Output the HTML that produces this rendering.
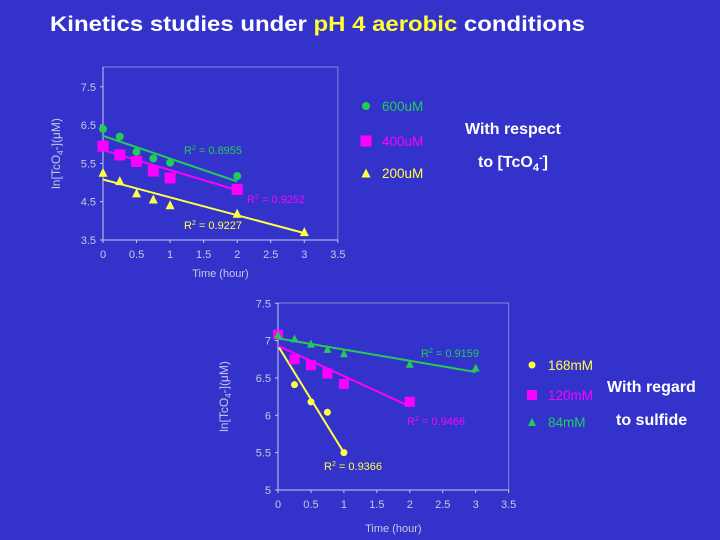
<!DOCTYPE html>
<html><head><meta charset="utf-8"><style>
body{margin:0;width:720px;height:540px;background:#3333cc;overflow:hidden;font-family:"Liberation Sans",sans-serif}
svg{position:absolute;left:0;top:0}
</style></head><body>
<svg width="720" height="540" font-family="Liberation Sans, sans-serif">
<text x="50" y="31" font-size="21" font-weight="bold" fill="#fff" textLength="535" lengthAdjust="spacingAndGlyphs">Kinetics studies under <tspan fill="#ffff33">pH 4 aerobic</tspan> conditions</text>
<g id="c1"></g>
<g id="c2"></g>
<text x="465" y="134" font-size="16" font-weight="bold" fill="#fff">With respect</text>
<text x="478" y="167" font-size="16" font-weight="bold" fill="#fff">to [TcO<tspan font-size="11" dy="4">4</tspan><tspan font-size="11" dy="-10">-</tspan><tspan dy="6">]</tspan></text>
<text x="607" y="392" font-size="16" font-weight="bold" fill="#fff">With regard</text>
<text x="616" y="425" font-size="16" font-weight="bold" fill="#fff">to sulfide</text>
</svg>
<script>
// Chart 1 data
const times1=[0,0.25,0.5,0.75,1,2,3];
const s600=[6.4,6.2,5.8,5.63,5.52,5.17];
const s400=[5.95,5.72,5.55,5.3,5.12,4.82];
const s200=[5.27,5.05,4.73,4.57,4.42,4.2,3.72];
const fit600=[6.22,5.03], fit400=[5.85,4.8], fit200=[5.08,3.68];
const xTicks1=[0,0.5,1,1.5,2,2.5,3,3.5];
const yTicks1=[3.5,4.5,5.5,6.5,7.5];
// Chart 2 data
const s168=[null,6.41,6.18,6.04,5.5];
const s120=[7.08,6.75,6.67,6.56,6.42,6.18];
const s84=[7.08,7.03,6.96,6.89,6.83,6.69,6.64];
const fit168=[6.93,5.5], fit120=[6.93,6.12], fit84=[7.03,6.58];
const fitEnd168=1, fitEnd120=2, fitEnd84=3, fitEnd600=2, fitEnd400=2, fitEnd200=3;
const xTicks2=[0,0.5,1,1.5,2,2.5,3,3.5];
const yTicks2=[5,5.5,6,6.5,7,7.5];

const NS='http://www.w3.org/2000/svg';
function mk(p,t,a){const e=document.createElementNS(NS,t);for(const k in a)e.setAttribute(k,a[k]);p.appendChild(e);return e;}
const G='#22cc55',M='#ff00ff',Y='#ffff44',AX='#c8c8e0';
function marker(g,type,x,y,c,s){
 let e;
 if(type==='c'){e=mk(g,'circle',{cx:x,cy:y,r:s/2,fill:c});}
 else if(type==='s'){e=mk(g,'rect',{x:x-s/2,y:y-s/2,width:s,height:s,fill:c});}
 else {e=mk(g,'polygon',{points:`${x},${y-s/2} ${x-s/2},${y+s/2} ${x+s/2},${y+s/2}`,fill:c});}
 
 
}
function chart(g,o){
 const X=v=>o.x0+v*o.kx, Yf=v=>o.y0-(v-o.ymin)*o.ky;
 const fr=mk(g,'rect',{x:o.x0,y:o.top,width:X(3.5)-o.x0,height:o.y0-o.top,fill:'none',stroke:'#8888cc','stroke-width':1});
 
 mk(g,'line',{x1:o.x0,y1:o.top,x2:o.x0,y2:o.y0,stroke:AX});
 mk(g,'line',{x1:o.x0,y1:o.y0,x2:X(3.5),y2:o.y0,stroke:AX});
 o.xt.forEach(v=>{mk(g,'line',{x1:X(v),y1:o.y0,x2:X(v),y2:o.y0+3,stroke:AX});
  const t=mk(g,'text',{x:X(v),y:o.y0+18,'text-anchor':'middle','font-size':11,fill:AX});t.textContent=v;
  });
 o.yt.forEach(v=>{mk(g,'line',{x1:o.x0-3,y1:Yf(v),x2:o.x0,y2:Yf(v),stroke:AX});
  const t=mk(g,'text',{x:o.x0-7,y:Yf(v)+4,'text-anchor':'end','font-size':11,fill:AX});t.textContent=v;
  });
 const xl=mk(g,'text',{x:X(1.75),y:o.y0+o.xlo,'text-anchor':'middle','font-size':11,fill:AX});xl.textContent='Time (hour)';
 
 const yx=o.ylx, yy=(o.top+o.y0)/2;
 const yl=mk(g,'text',{x:yx,y:yy,'text-anchor':'middle','font-size':12,fill:AX,transform:`rotate(-90 ${yx} ${yy})`});
 yl.innerHTML='ln[TcO<tspan font-size="8" dy="3">4</tspan><tspan dy="-3">-](μM)</tspan>';
 
 o.series.forEach(s=>{
  const l=mk(g,'line',{x1:X(0),y1:Yf(s.fit[0]),x2:X(s.fe),y2:Yf(s.fit[1]),stroke:s.c,'stroke-width':2});
  
  s.d.forEach((v,i)=>{if(v!=null)marker(g,s.m,X(times1[i]),Yf(v),s.c,s.sz);});
  const r=mk(g,'text',{x:s.r[0],y:s.r[1],'font-size':11,fill:s.c});
  r.innerHTML='R<tspan font-size="7" dy="-4">2</tspan><tspan dy="4"> = '+s.rv+'</tspan>';
  
  marker(g,s.m,o.lx,s.ly,s.c,s.sz);
  const lt=mk(g,'text',{x:o.lx+16,y:s.ly+5,'font-size':13.5,fill:s.c});lt.textContent=s.name;
  
 });
}
chart(document.getElementById('c1'),{x0:103,kx:67.1,y0:240,ymin:3.5,ky:38.3,top:67,xt:xTicks1,yt:yTicks1,ylx:60,lx:366,xlo:37,
 series:[
 {d:s600,fit:fit600,fe:fitEnd600,c:G,m:'c',sz:8,r:[184,154],rv:'0.8955',name:'600uM',ly:106},
 {d:s400,fit:fit400,fe:fitEnd400,c:M,m:'s',sz:11,r:[247,203],rv:'0.9252',name:'400uM',ly:141},
 {d:s200,fit:fit200,fe:fitEnd200,c:Y,m:'t',sz:9,r:[184,229],rv:'0.9227',name:'200uM',ly:173}]});
chart(document.getElementById('c2'),{x0:278,kx:65.9,y0:490,ymin:5,ky:74.7,top:303,xt:xTicks2,yt:yTicks2,ylx:228,lx:532,xlo:42,
 series:[
 {d:s168,fit:fit168,fe:fitEnd168,c:Y,m:'c',sz:7,r:[324,470],rv:'0.9366',name:'168mM',ly:365},
 {d:s120,fit:fit120,fe:fitEnd120,c:M,m:'s',sz:10,r:[407,425],rv:'0.9466',name:'120mM',ly:395},
 {d:s84,fit:fit84,fe:fitEnd84,c:G,m:'t',sz:8,r:[421,357],rv:'0.9159',name:'84mM',ly:422}]});
</script>
</body></html>
